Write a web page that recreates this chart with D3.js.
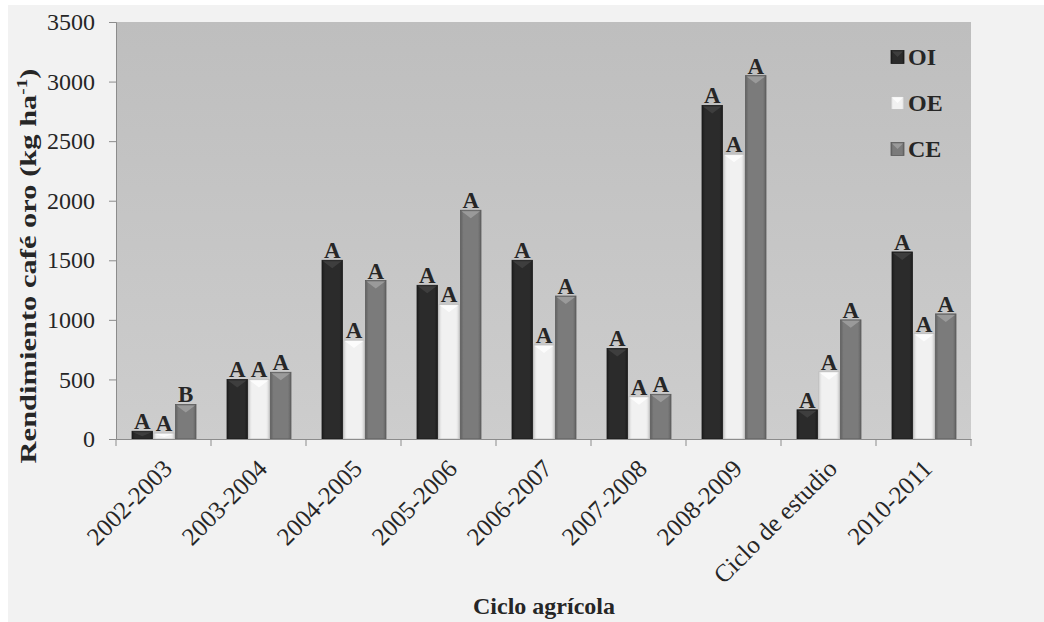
<!DOCTYPE html>
<html lang="es">
<head>
<meta charset="UTF-8">
<title>Rendimiento café oro</title>
<script src="https://cdn.jsdelivr.net/npm/d3@7"></script>
<style>
    body { margin: 0; background: #ffffff; }
    svg text { font-family: "Liberation Serif", "Times New Roman", serif; fill: #262626; }
</style>
</head>
<body>
<div id="chart"></div>
<script>
    // data
    const ciclos = ["2002-2003", "2003-2004", "2004-2005", "2005-2006", "2006-2007",
                    "2007-2008", "2008-2009", "Ciclo de estudio", "2010-2011"];
    const series = ["OI", "OE", "CE"];
    const valOI = [65, 500, 1500, 1290, 1500, 760, 2800, 245, 1570];
    const valOE = [50, 500, 830, 1130, 790, 355, 2390, 565, 885];
    const valCE = [290, 560, 1330, 1920, 1200, 375, 3050, 1000, 1050];
    const letOI = ["A", "A", "A", "A", "A", "A", "A", "A", "A"];
    const letOE = ["A", "A", "A", "A", "A", "A", "A", "A", "A"];
    const letCE = ["B", "A", "A", "A", "A", "A", "A", "A", "A"];
    const yTicks = [0, 500, 1000, 1500, 2000, 2500, 3000, 3500];

    const colors = {
        OI: { base: "#2b2b2b", edge: "#1c1c1c", tri: "#444444", stroke: "#1a1a1a" },
        OE: { base: "#f1f1f1", edge: "#d6d6d6", tri: "#ffffff", stroke: "#bdbdbd" },
        CE: { base: "#7b7b7b", edge: "#626262", tri: "#a3a3a3", stroke: "#5a5a5a" }
    };

    const W = 1044, H = 622;
    const plot = { left: 116, right: 971, top: 22, bottom: 439 };

    const rows = ciclos.map((c, i) => ({
        ciclo: c,
        bars: [
            { s: "OI", v: valOI[i], l: letOI[i] },
            { s: "OE", v: valOE[i], l: letOE[i] },
            { s: "CE", v: valCE[i], l: letCE[i] }
        ]
    }));

    const svg = d3.select("#chart").append("svg")
        .attr("width", W).attr("height", H);

    const defs = svg.append("defs");
    const bg = defs.append("linearGradient").attr("id", "plotbg")
        .attr("x1", 0).attr("y1", 0).attr("x2", 0).attr("y2", 1);
    bg.append("stop").attr("offset", "0%").attr("stop-color", "#bebebe");
    bg.append("stop").attr("offset", "100%").attr("stop-color", "#cdcdcd");

    series.forEach(s => {
        const g = defs.append("linearGradient").attr("id", "bar" + s)
            .attr("x1", 0).attr("y1", 0).attr("x2", 1).attr("y2", 0);
        g.append("stop").attr("offset", "0%").attr("stop-color", colors[s].edge);
        g.append("stop").attr("offset", "15%").attr("stop-color", colors[s].base);
        g.append("stop").attr("offset", "85%").attr("stop-color", colors[s].base);
        g.append("stop").attr("offset", "100%").attr("stop-color", colors[s].edge);
    });

    // outer panel
    svg.append("rect").attr("x", 8).attr("y", 5).attr("width", W - 8).attr("height", H - 5)
        .attr("fill", "#f2f2f2");

    // plot area
    svg.append("rect")
        .attr("x", plot.left).attr("y", plot.top)
        .attr("width", plot.right - plot.left).attr("height", plot.bottom - plot.top)
        .attr("fill", "url(#plotbg)");

    const x0 = d3.scaleBand().domain(ciclos).range([plot.left, plot.right]).padding(0);
    const x1 = d3.scaleBand().domain(series).range([16, x0.bandwidth() - 15]).paddingInner(0.06);
    const y = d3.scaleLinear().domain([0, 3500]).range([plot.bottom, plot.top]);

    // bars
    const groups = svg.append("g").selectAll("g")
        .data(rows).enter().append("g")
        .attr("transform", d => `translate(${x0(d.ciclo)},0)`);

    const bar = groups.selectAll("g.bar")
        .data(d => d.bars).enter().append("g").attr("class", "bar");

    bar.append("rect")
        .attr("x", d => x1(d.s))
        .attr("y", d => y(d.v))
        .attr("width", x1.bandwidth())
        .attr("height", d => y(0) - y(d.v))
        .attr("fill", d => `url(#bar${d.s})`)
        .attr("stroke", d => colors[d.s].stroke)
        .attr("stroke-width", 0.8);

    // bevel chevron on top of each bar
    bar.append("path")
        .attr("d", d => {
            const xa = x1(d.s), xb = xa + x1.bandwidth(), yt = y(d.v);
            const h = Math.min(7, (y(0) - yt) / 2);
            return `M${xa + 1},${yt + 1} L${xb - 1},${yt + 1} L${(xa + xb) / 2},${yt + 1 + h} Z`;
        })
        .attr("fill", d => colors[d.s].tri)
        .attr("opacity", 0.8);

    bar.append("text")
        .attr("x", d => x1(d.s) + x1.bandwidth() / 2)
        .attr("y", d => y(d.v) - 2)
        .attr("text-anchor", "middle")
        .style("font-size", "23px")
        .style("font-weight", "bold")
        .text(d => d.l);

    // y axis
    const yAxis = svg.append("g")
        .attr("transform", `translate(${plot.left},0)`)
        .call(d3.axisLeft(y).tickValues(yTicks).tickSize(7).tickPadding(14).tickFormat(d3.format("d")));
    yAxis.select(".domain").attr("stroke", "#8c8c8c");
    yAxis.selectAll(".tick line").attr("stroke", "#8c8c8c");
    yAxis.selectAll(".tick text").style("font-size", "24px").attr("fill", "#262626");

    // x axis
    const xAxis = svg.append("g")
        .attr("transform", `translate(0,${plot.bottom})`)
        .call(d3.axisBottom(x0).tickSize(0).tickFormat(""));
    xAxis.select(".domain").attr("stroke", "#8c8c8c");
    xAxis.selectAll(".tick").remove();
    const bounds = ciclos.map(c => x0(c)).concat([plot.right]);
    xAxis.selectAll("line.sep").data(bounds).enter().append("line")
        .attr("class", "sep")
        .attr("x1", d => d).attr("x2", d => d)
        .attr("y1", 0).attr("y2", 7)
        .attr("stroke", "#8c8c8c");

    svg.append("g").selectAll("text")
        .data(ciclos).enter().append("text")
        .attr("transform", d => `translate(${x0(d) + x0.bandwidth() / 2 + 4},${plot.bottom + 25}) rotate(-45)`)
        .attr("text-anchor", "end")
        .attr("dy", "0.35em")
        .style("font-size", "25px")
        .text(d => d);

    // axis titles
    const yt = svg.append("text")
        .attr("text-anchor", "middle")
        .style("font-size", "24px")
        .style("font-weight", "bold");
    yt.append("tspan").text("Rendimiento café oro (kg ha");
    yt.append("tspan").attr("dy", -9).style("font-size", "15px").text("-1");
    yt.append("tspan").attr("dy", 9).text(")");
    // stretch along its length to span the same height as the original
    const ylen = yt.node().getComputedTextLength();
    yt.attr("transform", `translate(36,266) rotate(-90) scale(${395 / ylen},1)`);

    svg.append("text")
        .attr("x", 544).attr("y", 614)
        .attr("text-anchor", "middle")
        .style("font-size", "24px")
        .style("font-weight", "bold")
        .text("Ciclo agrícola");

    // legend
    const leg = svg.append("g").selectAll("g")
        .data(series).enter().append("g")
        .attr("transform", (d, i) => `translate(891,${57 + i * 46})`);
    leg.append("rect")
        .attr("x", 0).attr("y", -6.5).attr("width", 13).attr("height", 13)
        .attr("fill", d => `url(#bar${d})`)
        .attr("stroke", d => colors[d].stroke).attr("stroke-width", 0.8);
    leg.append("path")
        .attr("d", "M1,-5.5 L12,-5.5 L6.5,0 Z")
        .attr("fill", d => colors[d].tri).attr("opacity", 0.8);
    leg.append("text")
        .attr("x", 17).attr("y", 0).attr("dy", "0.35em")
        .style("font-size", "24px").style("font-weight", "bold")
        .text(d => d);
</script>
</body>
</html>
